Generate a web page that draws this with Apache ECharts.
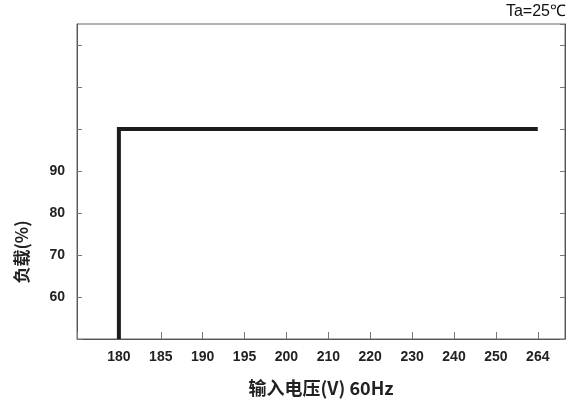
<!DOCTYPE html>
<html>
<head>
<meta charset="utf-8">
<script src="https://cdn.jsdelivr.net/npm/echarts@6/dist/echarts.min.js"></script>
<style>
html,body{margin:0;padding:0;background:#fff;}
#chart{width:573px;height:405px;}
</style>
</head>
<body>
<div id="chart"></div>
<script>
// Data
var voltageCategories = ['180','185','190','195','200','210','220','230','240','250','264'];
var yTickLabels = [60, 70, 80, 90];
var loadVoltage = ['180', '180', '264'];
var loadPercent = [50, 100, 100];

var seriesData = loadVoltage.map(function (v, i) {
  return [voltageCategories.indexOf(v), loadPercent[i]];
});

var chart = echarts.init(document.getElementById('chart'));
var labelFont = 'Liberation Sans Narrow, Liberation Sans, Arial, sans-serif';
var cjkFont = 'Noto Sans CJK SC, sans-serif';

chart.setOption({
  animation: false,
  backgroundColor: '#fff',
  grid: { left: 77, right: 8, top: 24, bottom: 66, show: true, borderColor: '#666', borderWidth: 1 },
  graphic: [{
    type: 'text',
    x: 22, y: 252,
    rotation: Math.PI / 2,
    style: {
      text: '负载(%)',
      font: 'bold 17px ' + cjkFont,
      fill: '#222',
      textAlign: 'center',
      textVerticalAlign: 'middle'
    }
  }, {
    type: 'text',
    x: 566, y: 12,
    style: {
      text: 'Ta=25℃',
      font: '16px ' + labelFont,
      fill: '#111',
      textAlign: 'right',
      textVerticalAlign: 'middle'
    }
  }],
  xAxis: {
    type: 'value',
    min: -1, max: 10.65, interval: 1,
    name: '输入电压(V) 60Hz',
    nameLocation: 'middle',
    nameGap: 40,
    nameTextStyle: { fontFamily: cjkFont, fontSize: 18, fontWeight: 'bold', color: '#222' },
    axisLine: { show: true, onZero: false, lineStyle: { color: '#555', width: 1 } },
    axisTick: { show: true, inside: true, length: 7, lineStyle: { color: '#777' } },
    axisLabel: {
      margin: 11,
      fontFamily: labelFont, fontSize: 14, fontWeight: 'bold', color: '#222',
      showMaxLabel: false,
      formatter: function (v) {
        return (v >= 0 && Math.round(v) === v && voltageCategories[v]) ? voltageCategories[v] : '';
      }
    },
    splitLine: { show: false }
  },
  yAxis: [{
    type: 'value',
    min: 50, max: 125, interval: 10,
    axisLine: { show: true, onZero: false, lineStyle: { color: '#555', width: 1 } },
    axisTick: { show: true, inside: true, length: 5, lineStyle: { color: '#777' } },
    axisLabel: {
      margin: 12,
      fontFamily: labelFont, fontSize: 14, fontWeight: 'bold', color: '#222',
      showMaxLabel: false,
      formatter: function (v) { return yTickLabels.indexOf(v) >= 0 ? String(v) : ''; }
    },
    splitLine: { show: false }
  }, {
    type: 'value',
    position: 'right',
    min: 50, max: 125, interval: 10,
    axisLine: { show: true, onZero: false, lineStyle: { color: '#555', width: 1 } },
    axisTick: { show: true, inside: true, length: 5, lineStyle: { color: '#777' } },
    axisLabel: { show: false },
    splitLine: { show: false }
  }],
  series: [{
    type: 'line',
    data: seriesData,
    symbol: 'none',
    lineStyle: { color: '#1c1c1c', width: 4, cap: 'butt', join: 'miter' }
  }]
});
</script>
</body>
</html>
